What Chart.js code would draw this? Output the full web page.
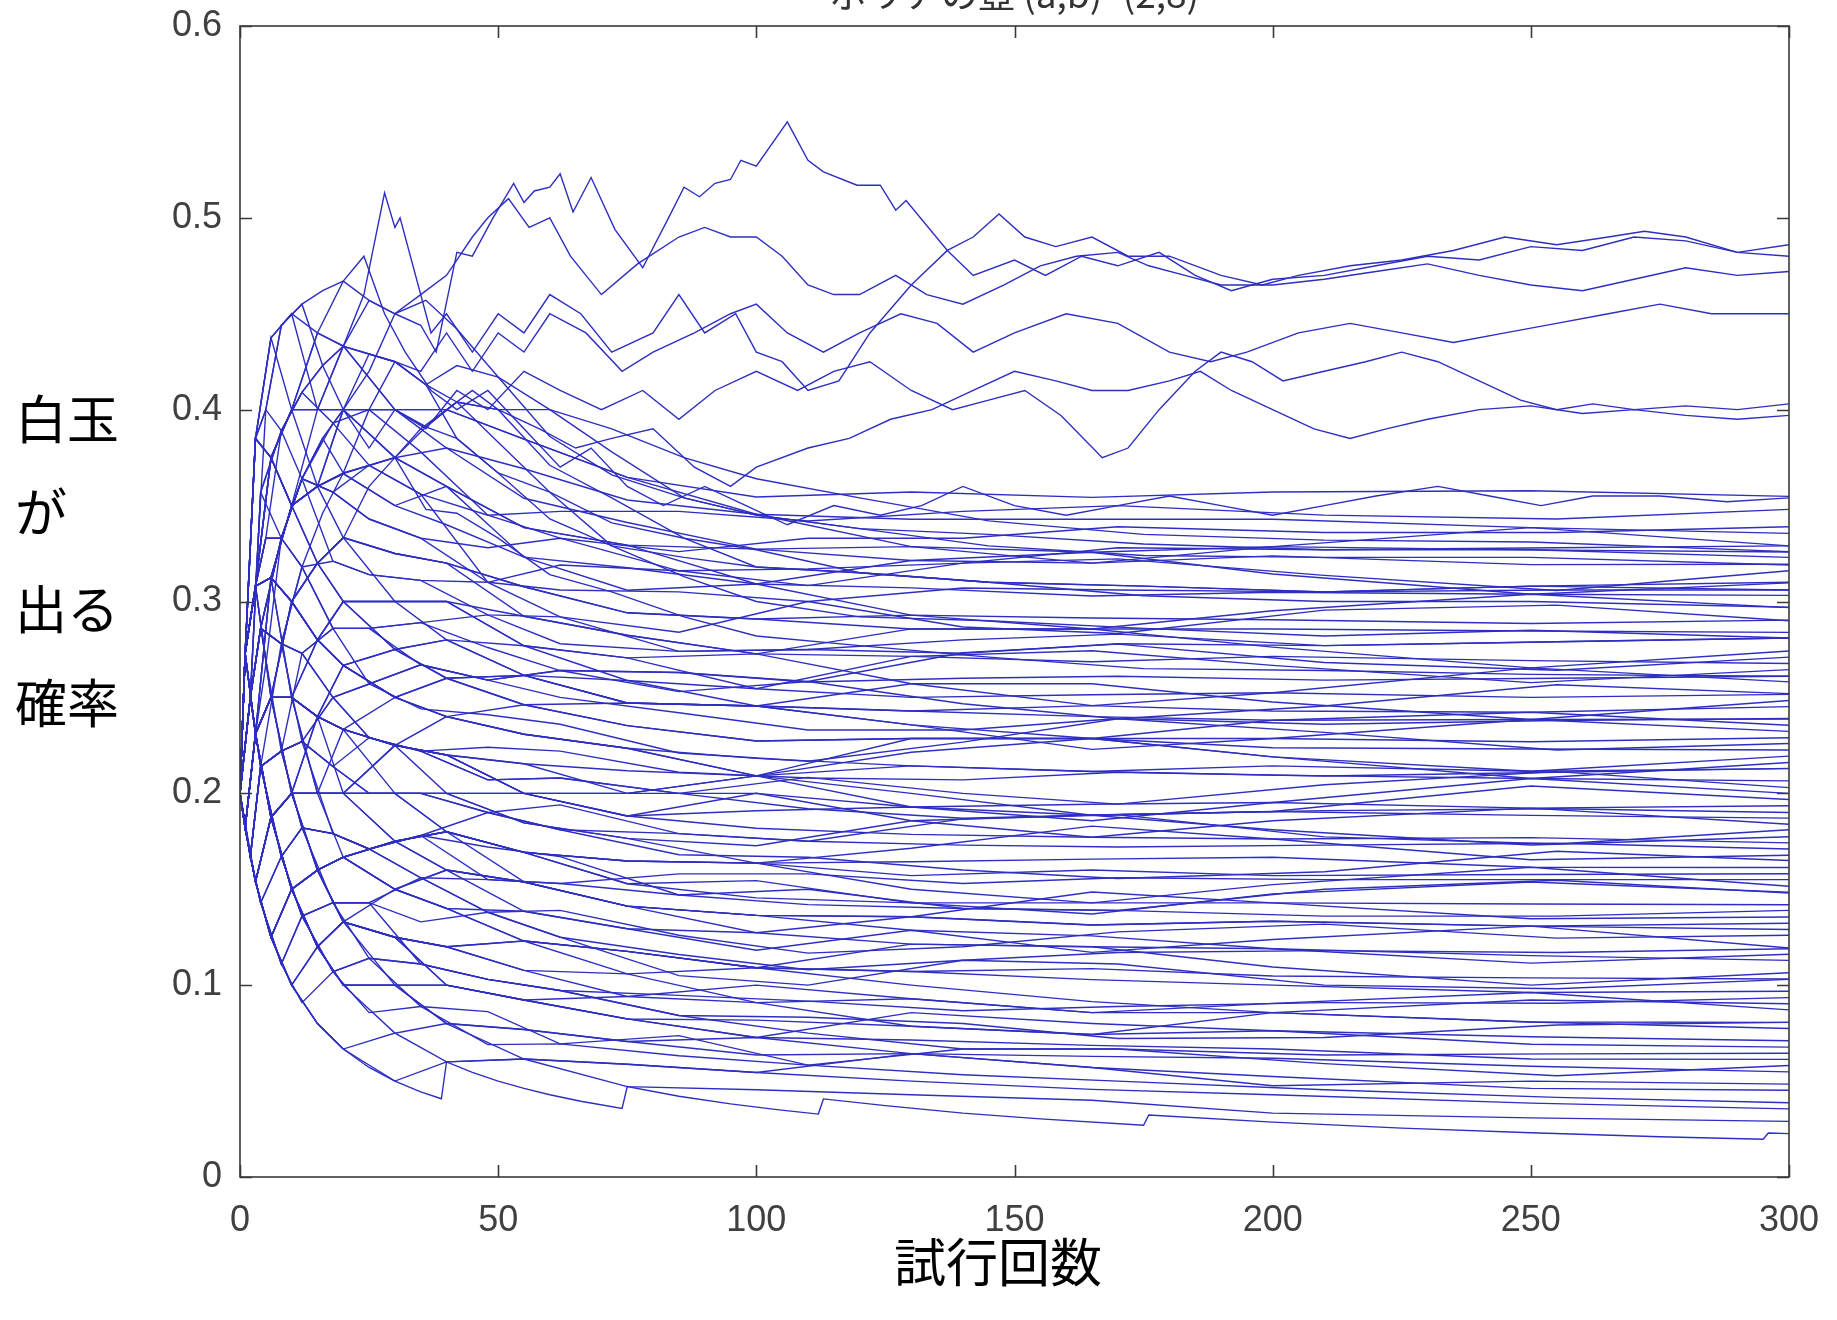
<!DOCTYPE html>
<html lang="ja">
<head>
<meta charset="utf-8">
<title>ポリアの壺 (a,b)=(2,8)</title>
<script src="https://cdn.jsdelivr.net/npm/chart.js@4.4.1/dist/chart.umd.min.js"></script>
<style>
  html, body { margin: 0; padding: 0; background: #fff; }
  #wrap { position: relative; width: 1837px; height: 1320px; }
</style>
</head>
<body>
<div id="wrap"><canvas id="urn" width="1837" height="1320"></canvas></div>
<script>
/* -------------------------
   DATA
------------------------- */
const chartTitle = "ポリアの壺 (a,b)=(2,8)";
const xTitle = "試行回数";
const yTitleLines = ["白玉", "が", "出る", "確率"];

const xTicks = [0, 50, 100, 150, 200, 250, 300];
const yTicks = [0, 0.1, 0.2, 0.3, 0.4, 0.5, 0.6];

// trial counts where the first group of paths was sampled
const gridX = [0, 1, 3, 6, 10, 15, 20, 30, 40, 55, 75, 100, 130, 165, 200, 250, 300];

// probability of a white ball at each gridX, one row per path
const gridPaths = [
  [.2,.182,.154,.125,.1,.08,.0667,.075,.06,.0615,.0588,.0545,.05,.0457,.0429,.0385,.0355],
  [.2,.182,.154,.125,.1,.12,.1,.075,.08,.0769,.0706,.0636,.0643,.0571,.0524,.0462,.0452],
  [.2,.182,.154,.125,.15,.12,.1,.1,.08,.0769,.0706,.0727,.0643,.0629,.0619,.0577,.0548],
  [.2,.182,.154,.1875,.15,.12,.133,.1,.1,.0923,.0824,.0727,.0714,.0686,.0667,.0615,.0613],
  [.2,.182,.154,.125,.1,.12,.133,.125,.1,.0923,.0824,.0727,.0857,.08,.0762,.0692,.0677],
  [.2,.182,.231,.1875,.15,.12,.133,.125,.12,.1077,.1059,.0909,.0786,.0743,.0857,.0808,.0774],
  [.2,.182,.154,.125,.15,.16,.133,.125,.12,.1077,.0941,.0909,.0929,.0857,.0857,.0808,.0806],
  [.2,.273,.231,.1875,.15,.16,.133,.125,.12,.123,.1059,.1091,.1,.0914,.0857,.0923,.0903],
  [.2,.182,.154,.1875,.15,.12,.133,.15,.14,.123,.1176,.1091,.1071,.1029,.1,.0962,.0968],
  [.2,.182,.231,.1875,.2,.16,.1667,.15,.14,.123,.1176,.1091,.1214,.12,.1095,.1,.1065],
  [.2,.182,.154,.125,.15,.16,.1667,.15,.16,.1385,.1294,.1273,.1214,.12,.119,.1154,.1129],
  [.2,.273,.231,.1875,.2,.16,.1667,.175,.16,.1538,.1412,.1364,.1286,.1171,.1238,.1308,.1194],
  [.2,.182,.154,.1875,.2,.2,.1667,.15,.16,.1538,.1412,.1364,.1357,.1314,.1333,.1308,.129],
  [.2,.182,.231,.25,.2,.2,.2,.175,.16,.1538,.1412,.1273,.1357,.1486,.1429,.1346,.1355],
  [.2,.273,.231,.1875,.15,.16,.1667,.175,.18,.1692,.1529,.1455,.1429,.1429,.1429,.1423,.1419],
  [.2,.182,.154,.1875,.15,.16,.1667,.175,.18,.1692,.1647,.1636,.15,.1429,.1524,.1615,.1516],
  [.2,.273,.308,.25,.25,.2,.2,.2,.18,.1692,.1647,.1636,.1571,.16,.1571,.1577,.1581],
  [.2,.182,.231,.25,.25,.24,.2333,.2,.2,.1846,.1765,.1636,.1714,.1829,.1762,.1654,.1677],
  [.2,.273,.231,.1875,.2,.2,.2,.2,.2,.2,.1882,.1818,.1786,.1771,.1762,.1769,.1742],
  [.2,.182,.231,.1875,.2,.24,.2333,.225,.22,.2,.1882,.2,.1857,.1771,.1857,.1923,.1839],
  [.2,.273,.308,.3125,.25,.24,.2333,.225,.22,.2,.2,.2,.1929,.1943,.1952,.1923,.1935],
  [.2,.182,.154,.1875,.2,.2,.2,.225,.22,.2154,.2,.2091,.1929,.1857,.1952,.2077,.2],
  [.2,.273,.231,.25,.25,.24,.2333,.225,.24,.2308,.2235,.2182,.2143,.2114,.2095,.2077,.2065],
  [.2,.182,.231,.25,.3,.28,.2667,.25,.24,.2308,.2235,.2091,.2214,.2286,.219,.2077,.2161],
  [.2,.273,.308,.25,.25,.24,.2667,.25,.26,.2462,.2353,.2273,.2286,.2286,.2238,.2231,.2226],
  [.2,.182,.231,.25,.25,.28,.3,.3,.28,.2615,.2471,.2455,.2357,.2229,.2286,.2385,.2323],
  [.2,.273,.308,.3125,.3,.28,.2667,.25,.26,.2615,.2471,.2455,.2429,.24,.2381,.2385,.2387],
  [.2,.182,.231,.25,.25,.24,.2667,.275,.28,.2769,.2588,.2455,.2571,.2571,.2476,.2385,.2484],
  [.2,.273,.308,.3125,.3,.32,.3,.275,.28,.2615,.2588,.2545,.25,.2514,.2524,.25,.2516],
  [.2,.273,.231,.25,.25,.28,.3,.3,.3,.2769,.2706,.2727,.2571,.2457,.2524,.2654,.2581],
  [.2,.273,.308,.3125,.35,.32,.3333,.325,.32,.2923,.2824,.2727,.2714,.2686,.2714,.2692,.2677],
  [.2,.182,.231,.3125,.3,.32,.3333,.3,.3,.2923,.2824,.2727,.2857,.2857,.2762,.2654,.2742],
  [.2,.273,.308,.3125,.35,.36,.3333,.325,.32,.3077,.2941,.2909,.2857,.2857,.2857,.2846,.2839],
  [.2,.273,.385,.375,.35,.36,.3667,.35,.34,.3231,.3059,.3091,.2929,.2857,.2952,.3038,.2968],
  [.2,.273,.308,.375,.4,.36,.3667,.35,.36,.3231,.3176,.3091,.3071,.3029,.3048,.3038,.3032],
  [.2,.273,.308,.3125,.35,.36,.3667,.375,.36,.3385,.3294,.3091,.3214,.3257,.3143,.3038,.3097],
  [.2,.273,.385,.375,.4,.4,.4,.375,.38,.3538,.3412,.3273,.3214,.32,.3238,.3192,.3194],
  [.2,.273,.308,.375,.4,.4,.4333,.4,.38,.3692,.3529,.3455,.3286,.32,.3286,.3385,.329],
  [.2,.273,.385,.4375,.45,.44,.4333,.4,.4,.3846,.3647,.3455,.3429,.3429,.3429,.3385,.3355],
  [.2,.273,.308,.375,.4,.4,.4,.4,.4,.3846,.3647,.3545,.3571,.3543,.3571,.3577,.3548],
  [.2,.182,.154,.125,.1,.08,.0667,.05,.06,.0615,.0471,.0455,.0429,.04,.0333,.0308,.029],
  [.2,.182,.154,.1875,.15,.12,.1,.1,.08,.0615,.0588,.0545,.0643,.0571,.0476,.05,.0484],
  [.2,.182,.154,.125,.15,.12,.1,.1,.1,.0923,.0824,.0818,.0786,.0743,.0762,.0731,.071],
  [.2,.182,.231,.1875,.15,.16,.133,.125,.1,.0923,.0941,.1,.0929,.0857,.0905,.0962,.0871],
  [.2,.182,.154,.1875,.2,.16,.133,.125,.12,.1231,.1176,.1091,.1071,.1086,.1048,.1038,.1032],
  [.2,.273,.231,.25,.2,.16,.1667,.15,.14,.1385,.1294,.1182,.1286,.1257,.119,.1115,.1161],
  [.2,.182,.231,.1875,.2,.2,.2,.175,.18,.1538,.1412,.1364,.1357,.1314,.1333,.1308,.1323],
  [.2,.182,.154,.125,.15,.16,.1667,.175,.18,.1692,.1529,.1545,.1429,.1371,.1476,.1538,.1484],
  [.2,.273,.308,.3125,.25,.24,.2,.2,.18,.1692,.1647,.1636,.1643,.1657,.1667,.1615,.1613],
  [.2,.182,.231,.25,.2,.2,.2,.2,.2,.1846,.1765,.1727,.1857,.1886,.181,.1731,.1774],
  [.2,.273,.231,.25,.25,.2,.2,.225,.22,.2,.1882,.1909,.1929,.1886,.1905,.1885,.1871],
  [.2,.182,.231,.1875,.2,.2,.2333,.225,.2,.2,.2,.2091,.2,.1886,.1905,.2038,.1968],
  [.2,.273,.308,.25,.25,.24,.2333,.225,.22,.2154,.2118,.2091,.2143,.2114,.2143,.2115,.2129],
  [.2,.182,.154,.1875,.2,.24,.2333,.25,.24,.2308,.2235,.2091,.2286,.2286,.219,.2115,.2194],
  [.2,.273,.231,.25,.3,.28,.2667,.25,.24,.2462,.2353,.2273,.2286,.2286,.2286,.2269,.229],
  [.2,.273,.308,.3125,.3,.28,.3,.275,.26,.2462,.2471,.2455,.2357,.2286,.2381,.2423,.2355],
  [.2,.182,.231,.3125,.3,.28,.2667,.275,.26,.2615,.2471,.2455,.2429,.2457,.2429,.2423,.2452],
  [.2,.273,.385,.375,.35,.32,.3,.3,.3,.2769,.2706,.2545,.2714,.2743,.2667,.2577,.2645],
  [.2,.273,.308,.3125,.3,.32,.3333,.325,.32,.3077,.2941,.2909,.2929,.2914,.2905,.2885,.2903],
  [.2,.273,.385,.4375,.45,.4,.4,.375,.36,.3385,.3294,.3273,.3286,.3257,.3286,.3269,.3258]
];

// trial counts for the second group of paths
const gridX2 = [0, 2, 4, 8, 12, 18, 25, 35, 48, 62, 85, 110, 140, 170, 210, 255, 300];

const gridPaths2 = [
  [.2,.167,.143,.111,.136,.107,.0857,.0889,.069,.0694,.0632,.0583,.0533,.05,.0455,.0415,.0387],
  [.2,.167,.214,.167,.136,.107,.114,.0889,.0862,.0694,.0737,.0583,.0667,.0667,.0591,.0528,.0581],
  [.2,.167,.143,.111,.0909,.107,.114,.111,.103,.0972,.0842,.075,.0667,.0667,.0636,.0642,.0645],
  [.2,.25,.214,.167,.182,.143,.114,.111,.103,.0972,.0842,.0833,.08,.0722,.0727,.0792,.0806],
  [.2,.167,.143,.167,.136,.143,.143,.111,.103,.0972,.0947,.0917,.0867,.0889,.0909,.0906,.0935],
  [.2,.167,.214,.167,.136,.143,.143,.133,.138,.125,.105,.1,.113,.111,.1,.0981,.103],
  [.2,.25,.214,.222,.182,.179,.171,.156,.138,.125,.116,.108,.113,.117,.118,.117,.119],
  [.2,.167,.143,.111,.136,.143,.143,.156,.138,.139,.126,.1167,.12,.1278,.1318,.1245,.126],
  [.2,.25,.286,.222,.227,.179,.171,.156,.155,.153,.147,.142,.14,.139,.136,.136,.139],
  [.2,.167,.214,.222,.182,.179,.171,.178,.172,.167,.147,.15,.14,.1389,.15,.1547,.148],
  [.2,.167,.143,.167,.182,.179,.171,.178,.155,.153,.158,.158,.153,.156,.155,.155,.155],
  [.2,.25,.214,.222,.227,.214,.2,.2,.19,.181,.168,.1667,.16,.1556,.1591,.1698,.165],
  [.2,.25,.286,.278,.227,.214,.2,.2,.19,.194,.179,.175,.173,.172,.173,.174,.171],
  [.2,.167,.214,.167,.182,.179,.171,.178,.19,.181,.179,.175,.1867,.1889,.1773,.1736,.181],
  [.2,.25,.214,.222,.227,.25,.229,.222,.207,.208,.2,.192,.187,.189,.191,.192,.19],
  [.2,.167,.214,.222,.227,.214,.229,.222,.207,.208,.2,.2083,.2,.1944,.2045,.2113,.203],
  [.2,.25,.286,.278,.273,.25,.229,.222,.224,.222,.211,.208,.207,.211,.209,.211,.213],
  [.2,.167,.214,.278,.273,.25,.257,.244,.241,.236,.221,.2167,.2267,.2389,.2318,.2226,.226],
  [.2,.25,.286,.278,.318,.286,.257,.267,.259,.25,.242,.233,.233,.239,.236,.238,.239],
  [.2,.25,.214,.222,.227,.25,.257,.267,.259,.264,.253,.2583,.2467,.2389,.2455,.2566,.252],
  [.2,.167,.214,.222,.273,.286,.286,.289,.276,.264,.263,.258,.26,.261,.259,.26,.261],
  [.2,.25,.286,.333,.318,.286,.286,.267,.259,.264,.263,.2583,.2733,.2778,.2682,.2642,.271],
  [.2,.25,.286,.278,.273,.286,.286,.289,.293,.278,.274,.275,.28,.283,.277,.279,.281],
  [.2,.25,.357,.333,.364,.321,.314,.311,.293,.292,.284,.3,.2867,.2833,.2955,.2981,.29],
  [.2,.25,.286,.333,.364,.357,.343,.333,.31,.306,.305,.3,.307,.306,.305,.306,.306],
  [.2,.25,.286,.278,.318,.321,.314,.311,.31,.319,.316,.3083,.32,.3222,.3136,.3057,.316],
  [.2,.25,.357,.389,.364,.357,.343,.333,.328,.333,.326,.333,.333,.339,.336,.336,.339],
  [.2,.25,.286,.333,.364,.393,.371,.356,.345,.347,.347,.342,.347,.35,.345,.343,.348],
  [.2,.25,.357,.389,.409,.393,.4,.378,.345,.333,.316,.317,.32,.328,.327,.328,.329],
  [.2,.25,.286,.333,.364,.357,.371,.356,.31,.292,.274,.275,.273,.278,.277,.279,.281]
];

// trial counts for the paths that run high early and settle lower
const gridX3 = [0, 1, 3, 5, 8, 12, 16, 20, 25, 30, 36, 42, 50, 60, 72, 86, 100, 120, 145, 175, 210, 250, 300];

const earlyHighPaths = [
  [.2,.273,.308,.333,.389,.409,.423,.433,.429,.425,.413,.385,.367,.343,.329,.323,.318,.315,.31,.308,.305,.308,.306],
  [.2,.273,.308,.4,.444,.455,.462,.467,.457,.45,.457,.442,.417,.386,.366,.354,.345,.338,.335,.33,.327,.327,.323],
  [.2,.273,.385,.4,.389,.409,.423,.433,.429,.425,.413,.423,.417,.4,.378,.354,.345,.338,.329,.324,.323,.323,.319],
  [.2,.182,.231,.267,.333,.364,.385,.4,.4,.4,.391,.404,.4,.371,.354,.333,.318,.315,.31,.303,.3,.3,.297],
  [.2,.273,.308,.333,.333,.364,.385,.4,.429,.425,.413,.404,.383,.357,.329,.313,.3,.292,.29,.286,.282,.285,.281],
  [.2,.273,.308,.333,.333,.318,.346,.367,.371,.375,.391,.404,.4,.4,.39,.375,.364,.354,.342,.335,.332,.331,.326],
  [.2,.273,.308,.333,.333,.364,.385,.367,.371,.375,.348,.346,.333,.314,.305,.292,.282,.277,.271,.265,.264,.262,.261],
  [.2,.273,.385,.4,.444,.455,.423,.4,.4,.4,.391,.385,.367,.357,.341,.333,.327,.315,.31,.308,.305,.308,.31]
];

// paths traced point by point: [trial, probability]
const lowestPath = [[0,.2],[3,.154],[6,.125],[10,.1],[15,.08],[20,.0667],[25,.0571],[30,.05],[35,.0444],[39,.0408],[40,.06],[45,.0545],[50,.05],[55,.0462],[60,.0429],[66,.0395],[74,.0357],[75,.0471],[85,.0421],[95,.0381],[104,.0351],[112,.0328],[113,.0407],[125,.0372],[140,.0333],[155,.0303],[175,.027],[176,.0323],[200,.0286],[225,.0255],[250,.0231],[275,.021],[295,.0197],[296,.0229],[300,.0226]];

const peakPath = [[0,.2],[1,.273],[3,.308],[6,.375],[10,.4],[15,.44],[20,.433],[25,.457],[30,.45],[35,.444],[38,.43],[42,.482],[45,.48],[49,.5],[53,.518],[55,.508],[57,.514],[60,.516],[62,.523],[64.5,.503],[68,.521],[72.6,.494],[78,.474],[83,.5],[86,.516],[89,.511],[92,.518],[95,.52],[97,.53],[100,.527],[106,.55],[110,.53],[113,.524],[119.5,.517],[124,.517],[127,.504],[129,.509],[137,.483],[142,.47],[150,.478],[156,.47],[163,.48],[170,.475],[178,.482],[185,.47],[192,.462],[200,.468],[210,.47],[220,.475],[230,.48],[240,.478],[250,.485],[260,.483],[270,.49],[280,.488],[290,.482],[300,.486]];

const earlyPeakPath = [[0,.2],[1,.273],[3,.385],[6,.375],[10,.35],[15,.4],[20,.433],[24,.46],[28,.513],[30,.495],[31,.5],[37,.44],[40,.45],[45,.43],[50,.45],[55,.44],[60,.46],[66,.45],[72,.43],[80,.44],[85,.46],[90,.44],[96,.45],[100,.43],[105,.425],[110,.41],[116,.415],[122,.44],[130,.465],[137,.483],[142,.49],[147,.502],[152,.49],[158,.485],[165,.49],[172,.48],[180,.48],[190,.47],[198,.465],[205,.47],[215,.475],[225,.478],[235,.483],[245,.49],[255,.486],[265,.49],[272,.493],[280,.49],[290,.482],[300,.48]];

const highPathC = [[0,.2],[1,.182],[3,.231],[6,.3125],[10,.35],[15,.36],[20,.4],[25,.42],[30,.45],[35,.46],[40,.47],[45,.49],[48,.5],[52,.51],[56,.495],[60,.5],[64,.48],[70,.46],[77,.476],[85,.49],[90,.495],[95,.49],[100,.49],[105,.48],[110,.465],[115,.46],[120,.46],[127,.47],[133,.46],[140,.455],[148,.465],[155,.475],[162,.48],[170,.482],[176,.475],[183,.47],[190,.465],[200,.465],[210,.468],[220,.472],[230,.476],[240,.47],[250,.465],[260,.462],[270,.468],[280,.474],[290,.47],[300,.472]];

const highPathD = [[0,.2],[1,.273],[3,.308],[6,.3125],[10,.35],[15,.36],[20,.367],[25,.4],[30,.425],[35,.42],[40,.44],[45,.42],[50,.44],[55,.43],[60,.45],[67,.44],[74,.42],[80,.43],[88,.44],[95,.45],[100,.455],[106,.44],[113,.43],[120,.44],[128,.45],[135,.445],[142,.43],[150,.44],[160,.45],[170,.445],[180,.43],[188,.425],[195,.43],[205,.44],[215,.445],[225,.44],[235,.435],[245,.44],[255,.445],[265,.45],[275,.455],[285,.45],[300,.45]];

const midPathE = [[0,.2],[1,.273],[3,.308],[6,.375],[10,.35],[15,.36],[20,.4],[25,.38],[30,.4],[36,.39],[42,.41],[48,.4],[55,.42],[62,.41],[70,.4],[78,.41],[85,.395],[92,.41],[100,.42],[108,.41],[115,.42],[122,.425],[130,.41],[138,.4],[145,.405],[152,.41],[159,.397],[167,.375],[172,.38],[178,.4],[185,.42],[190,.43],[196,.425],[202,.415],[210,.42],[218,.425],[225,.43],[232,.425],[240,.415],[248,.405],[255,.4],[262,.403],[270,.4],[280,.402],[290,.4],[300,.403]];

const midPathF = [[0,.2],[1,.182],[3,.231],[6,.25],[10,.3],[15,.32],[20,.333],[25,.36],[30,.375],[35,.39],[40,.4],[45,.41],[50,.4],[58,.39],[65,.38],[72,.385],[80,.39],[88,.37],[95,.36],[100,.37],[110,.38],[118,.385],[126,.395],[134,.4],[142,.41],[150,.42],[158,.415],[165,.41],[172,.41],[180,.415],[186,.42],[192,.41],[200,.4],[208,.39],[215,.385],[222,.39],[230,.395],[240,.4],[250,.402],[260,.398],[270,.4],[280,.397],[290,.395],[300,.397]];

const midPathH = [[0,.2],[1,.273],[3,.385],[6,.4375],[10,.4],[15,.44],[20,.467],[24,.48],[28,.45],[32,.43],[37,.41],[42,.4],[48,.41],[55,.39],[62,.37],[68,.38],[75,.36],[82,.35],[90,.36],[98,.35],[106,.34],[115,.35],[124,.345],[132,.35],[140,.36],[150,.35],[160,.345],[170,.35],[180,.355],[190,.35],[200,.345],[210,.35],[220,.355],[232,.36],[242,.355],[252,.35],[262,.355],[275,.355],[288,.352],[300,.354]];

const tracedPaths = [lowestPath, peakPath, earlyPeakPath, highPathC, highPathD, midPathE, midPathF, midPathH];

/* -------------------------
   DATASETS
------------------------- */
const lineColor = "#2e2ec2";

const datasets = [];
gridPaths.forEach(row => {
  datasets.push({ data: gridX.map((x, i) => ({ x, y: row[i] })) });
});
gridPaths2.forEach(row => {
  datasets.push({ data: gridX2.map((x, i) => ({ x, y: row[i] })) });
});
earlyHighPaths.forEach(row => {
  datasets.push({ data: gridX3.map((x, i) => ({ x, y: row[i] })) });
});
tracedPaths.forEach(path => {
  datasets.push({ data: path.map(p => ({ x: p[0], y: p[1] })) });
});
datasets.forEach(d => {
  d.borderColor = lineColor;
  d.borderWidth = 1.4;
  d.pointRadius = 0;
  d.tension = 0;
  d.fill = false;
});

/* -------------------------
   FRAME + TEXT PLUGIN
------------------------- */
const framePlugin = {
  id: "frame",
  afterDatasetsDraw(chart) {
    const { ctx, chartArea: a, scales } = chart;
    const tick = 12;
    ctx.save();
    ctx.strokeStyle = "#3a3a3a";
    ctx.lineWidth = 1.6;
    ctx.strokeRect(a.left, a.top, a.right - a.left, a.bottom - a.top);
    ctx.beginPath();
    xTicks.forEach(v => {
      const px = Math.round(scales.x.getPixelForValue(v)) + 0.5;
      ctx.moveTo(px, a.bottom); ctx.lineTo(px, a.bottom - tick);
      ctx.moveTo(px, a.top); ctx.lineTo(px, a.top + tick);
    });
    yTicks.forEach(v => {
      const py = Math.round(scales.y.getPixelForValue(v)) + 0.5;
      ctx.moveTo(a.left, py); ctx.lineTo(a.left + tick, py);
      ctx.moveTo(a.right, py); ctx.lineTo(a.right - tick, py);
    });
    ctx.stroke();

    // title, mostly above the top edge like the original crop
    ctx.fillStyle = "#333";
    ctx.font = '37px "Noto Sans CJK JP", "Liberation Sans", sans-serif';
    ctx.textAlign = "center";
    ctx.textBaseline = "alphabetic";
    ctx.fillText(chartTitle, (a.left + a.right) / 2, 8);

    // axis titles
    ctx.fillStyle = "#000";
    ctx.font = '52px "Noto Sans CJK JP", sans-serif';
    ctx.textBaseline = "middle";
    ctx.fillText(xTitle, 998, 1262);
    ctx.textAlign = "left";
    const rows = [419, 512, 609, 703];
    yTitleLines.forEach((t, i) => ctx.fillText(t, 15, rows[i]));
    ctx.restore();
  }
};

/* -------------------------
   CHART
------------------------- */
const tickFont = { family: '"Liberation Sans", Arial, sans-serif', size: 36 };

new Chart(document.getElementById("urn").getContext("2d"), {
  type: "line",
  data: { datasets },
  options: {
    responsive: false,
    animation: false,
    devicePixelRatio: 1,
    layout: { padding: { top: 26, right: 48, left: 0, bottom: 0 } },
    plugins: { legend: { display: false }, title: { display: false }, tooltip: { enabled: false } },
    scales: {
      x: {
        type: "linear",
        min: 0,
        max: 300,
        afterBuildTicks: s => { s.ticks = xTicks.map(v => ({ value: v })); },
        ticks: { font: tickFont, color: "#404040", padding: 22, maxRotation: 0, callback: v => String(v) },
        grid: { display: false, drawTicks: false },
        border: { display: false },
        afterFit: s => { s.height = 143; s.paddingLeft = 0; s.paddingRight = 0; }
      },
      y: {
        type: "linear",
        min: 0,
        max: 0.6,
        afterBuildTicks: s => { s.ticks = yTicks.map(v => ({ value: v })); },
        ticks: { font: tickFont, color: "#404040", padding: 18, callback: v => (v === 0 ? "0" : (Math.round(v * 10) / 10).toFixed(1)) },
        grid: { display: false, drawTicks: false },
        border: { display: false },
        afterFit: s => { s.width = 240; s.paddingTop = 0; s.paddingBottom = 0; }
      }
    }
  },
  plugins: [framePlugin]
});
</script>
</body>
</html>
